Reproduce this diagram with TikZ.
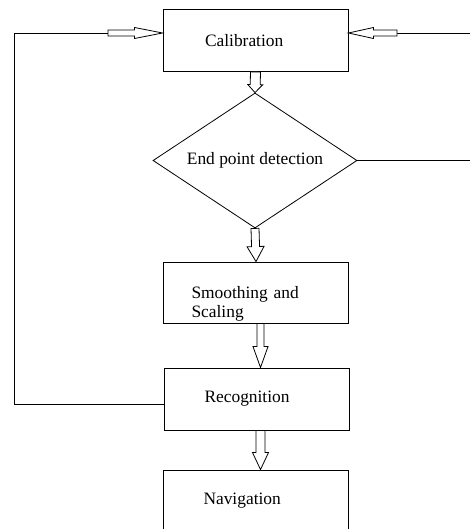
\documentclass[tikz,border=0pt]{standalone}
\usepackage{fontspec}
\setmainfont{Liberation Serif}
\usetikzlibrary{calc,shapes.geometric,positioning}

\tikzset{
  stagebox/.style={draw,line width=0.9pt,minimum height=62pt,inner xsep=40pt,
    text width=105pt,align=left,font=\fontsize{17.4}{19}\selectfont},
  testbox/.style={draw,diamond,aspect=1.5,line width=0.8pt,minimum width=204pt,minimum height=135pt,
    inner sep=0pt,font=\fontsize{17.4}{19}\selectfont},
  feedline/.style={line width=0.9pt},
  blockarrow/.style={line width=0.8pt,fill=white}
}

% hollow block arrow: tail, tip, head length, shaft half width, head half width
\newcommand{\blockarr}[5]{%
  \coordinate (ba-h) at ($(#2)!#3!(#1)$);
  \draw[blockarrow] ($(#1)!#4!90:(#2)$) -- ($(ba-h)!#4!-90:(#1)$)
    -- ($(ba-h)!#5!-90:(#1)$) -- (#2) -- ($(ba-h)!#5!90:(#1)$)
    -- ($(ba-h)!#4!90:(#1)$) -- ($(#1)!#4!-90:(#2)$) -- cycle;
}

\begin{document}
\begin{tikzpicture}[x=1pt,y=1pt]
\useasboundingbox (0,0) rectangle (469,-529);
% stages
\node[stagebox,inner xsep=42pt,text width=101pt] (calib) at (255.5,-40.5) {Calibration};
\node[testbox] (endpt) at (255,-160.5) {End point detection};
\node[stagebox,inner xsep=28pt,inner ysep=0pt,text width=129pt,minimum height=61pt] (smooth) at (256,-292.5) {\rule{0pt}{34pt}Smoothing and\\Scaling};
\node[stagebox] (recog) at (257,-399) {Recognition};
\node[stagebox] (navig) at (256,-501) {Navigation};
% feedback lines
\coordinate (lefttail) at (108,-33);
\coordinate (calin-w) at (calib.west |- lefttail);
\coordinate (righttail) at (397,-33);
\coordinate (calin-e) at (calib.east |- righttail);
\draw[feedline] ($(recog.west)+(0,-5)$) -- (14,-404) |- (lefttail);
\draw[feedline] (endpt.east) -- (471,-160.5) |- (righttail);
\blockarr{lefttail}{calin-w}{28pt}{3pt}{5.5pt}
\blockarr{righttail}{calin-e}{25pt}{3pt}{5.5pt}
% forward arrows
\coordinate (sm-s) at ($(smooth.south)+(4.5,0)$);
\coordinate (re-n) at (sm-s |- recog.north);
\coordinate (re-s) at (sm-s |- recog.south);
\coordinate (na-n) at (sm-s |- navig.north);
\blockarr{calib.south}{endpt.north}{8pt}{5pt}{7.5pt}
\blockarr{endpt.south}{smooth.north}{15pt}{4pt}{8.5pt}
\blockarr{sm-s}{re-n}{21pt}{3.5pt}{7.5pt}
\blockarr{re-s}{na-n}{17pt}{4.5pt}{8pt}
\end{tikzpicture}
\end{document}
